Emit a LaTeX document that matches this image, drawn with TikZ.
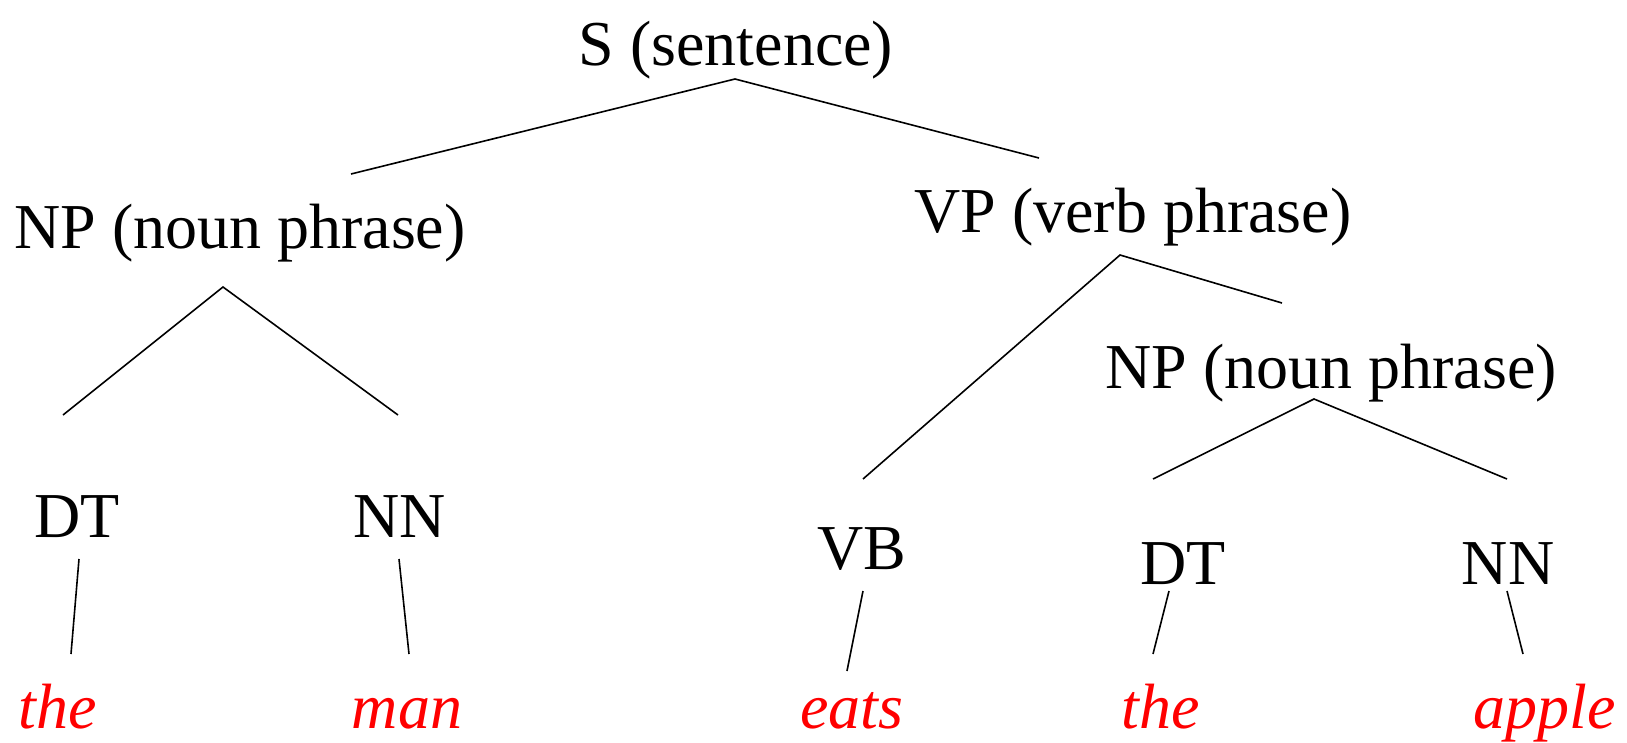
\documentclass[tikz,border=0pt]{standalone}
\usepackage{fontspec}
\setmainfont{Liberation Serif}
\begin{document}
\begin{tikzpicture}[x=1pt,y=-1pt,
  lab/.style={inner sep=0pt, anchor=base, font=\fontsize{64}{70}\selectfont},
  word/.style={lab, text=red, font=\fontsize{64}{70}\selectfont\itshape},
  edge/.style={line width=1.6pt, black}]
\useasboundingbox (0,0) rectangle (1627,742);
% labels
\node[lab] (S) at (736,65) {S (sentence)};
\node[lab] (NPa) at (240,248) {NP (noun phrase)};
\node[lab] (VP) at (1133,232) {VP (verb phrase)};
\node[lab] (NPb) at (1331,388) {NP (noun phrase)};
\node[lab] (DTa) at (77,537) {DT};
\node[lab] (NNa) at (400,537) {NN};
\node[lab] (VB) at (862,569) {VB};
\node[lab] (DTb) at (1183,584) {DT};
\node[lab] (NNb) at (1508,584) {NN};
\node[word] (w1) at (58,728) {the};
\node[word] (w2) at (407,728) {man};
\node[word] (w3) at (852,728) {eats};
\node[word] (w4) at (1161,728) {the};
\node[word] (w5) at (1545,728) {apple};
% connector points
\coordinate (S-a) at (735,79);
\coordinate (NPa-t) at (351,174);
\coordinate (VP-t) at (1039,158);
\coordinate (NPa-a) at (223,287);
\coordinate (DTa-t) at (63,415);
\coordinate (NNa-t) at (398,415);
\coordinate (VP-a) at (1120,255);
\coordinate (VB-t) at (863,479);
\coordinate (NPb-t) at (1282,303);
\coordinate (NPb-a) at (1314,399);
\coordinate (DTb-t) at (1153,479);
\coordinate (NNb-t) at (1507,479);
\coordinate (DTa-b) at (79,559);
\coordinate (w1-t) at (71,654);
\coordinate (NNa-b) at (399,559);
\coordinate (w2-t) at (409,654);
\coordinate (VB-b) at (863,591);
\coordinate (w3-t) at (847,671);
\coordinate (DTb-b) at (1169,591);
\coordinate (w4-t) at (1153,654);
\coordinate (NNb-b) at (1507,591);
\coordinate (w5-t) at (1523,654);
% connectors
\draw[edge] (NPa-t) -- (S-a) -- (VP-t);
\draw[edge] (DTa-t) -- (NPa-a) -- (NNa-t);
\draw[edge] (VB-t) -- (VP-a) -- (NPb-t);
\draw[edge] (DTb-t) -- (NPb-a) -- (NNb-t);
\draw[edge] (DTa-b) -- (w1-t);
\draw[edge] (NNa-b) -- (w2-t);
\draw[edge] (VB-b) -- (w3-t);
\draw[edge] (DTb-b) -- (w4-t);
\draw[edge] (NNb-b) -- (w5-t);
\end{tikzpicture}
\end{document}
